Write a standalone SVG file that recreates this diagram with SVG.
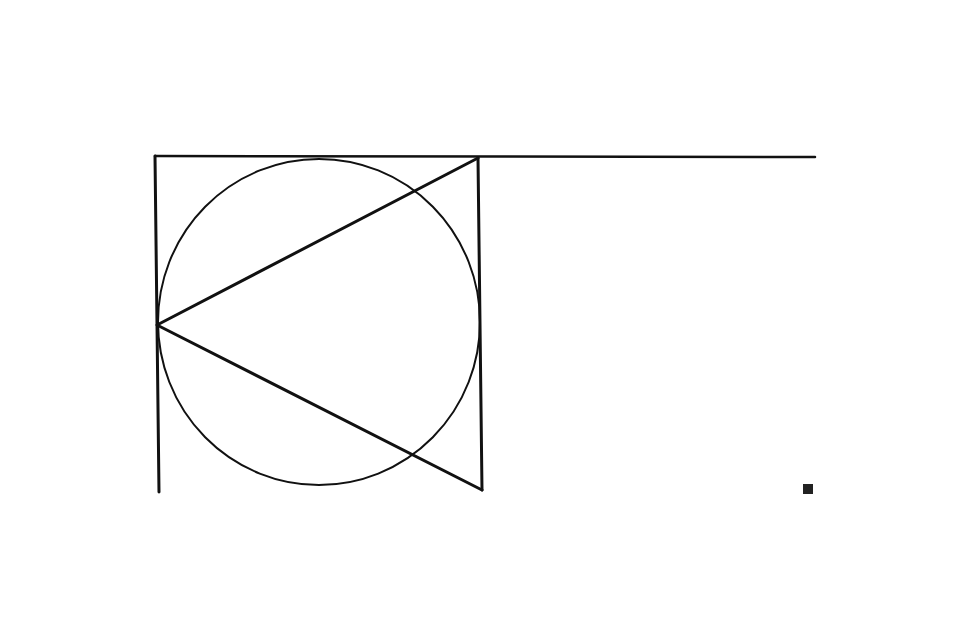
<svg xmlns="http://www.w3.org/2000/svg" width="960" height="640" viewBox="0 0 960 640">
<style>
.thick{stroke:#111;stroke-width:3;fill:none;stroke-linecap:round;stroke-linejoin:round}
.thin{stroke:#111;stroke-width:2;fill:none}
</style>
<rect width="960" height="640" fill="#fff"/>
<g id="circle"><ellipse class="thin" cx="319" cy="322" rx="161" ry="163"/></g>
<g id="frame">
<path class="thick" d="M155,156 L815,157" style="stroke-width:2.5"/>
<path class="thick" d="M155,156 L159,492"/>
<path class="thick" d="M478,158 L482,490"/>
</g>
<g id="triangle">
<path class="thick" d="M478,158 L157,325 L482,490"/>
</g>
<g id="mark"><rect x="803" y="484" width="10" height="10" fill="#222"/></g>
</svg>
